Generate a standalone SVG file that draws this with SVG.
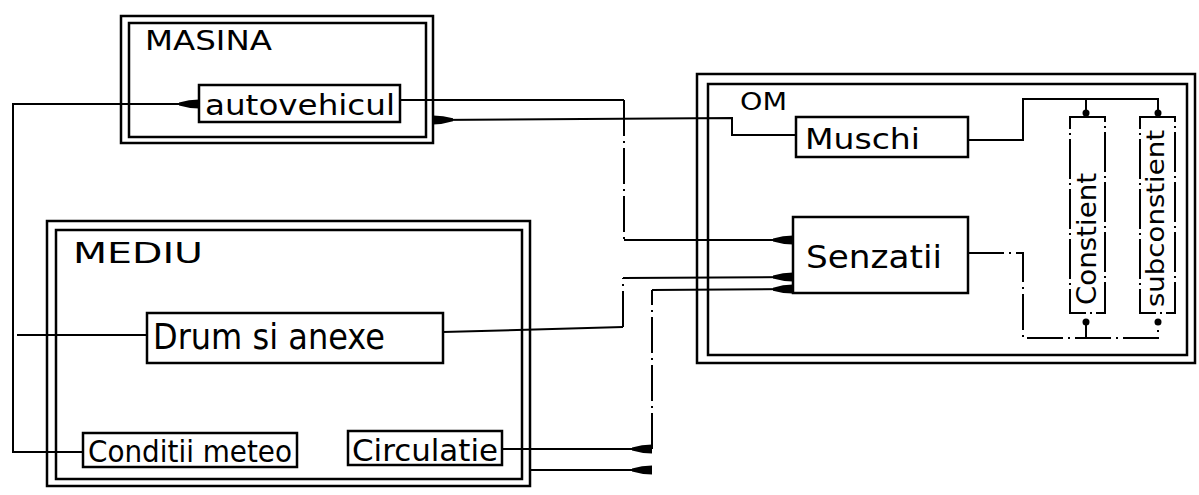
<svg xmlns="http://www.w3.org/2000/svg" width="1199" height="495" viewBox="0 0 1199 495">
<style>
.box{fill:none;stroke:#000;stroke-width:2.5}
.dbox{fill:none;stroke:#000;stroke-width:2;stroke-dasharray:40 4 2 4}
.ln{fill:none;stroke:#000;stroke-width:2}
.dl{fill:none;stroke:#000;stroke-width:2;stroke-dasharray:36 5 2 5}
.t{font-family:"DejaVu Sans","Liberation Sans",sans-serif;fill:#000}
.dot{fill:#000}
</style>
<defs>
<marker id="ah" markerUnits="userSpaceOnUse" markerWidth="22" markerHeight="12" refX="20" refY="6" orient="auto">
<path d="M0,4.5 Q10,1.5 20,1.5 L20,10.5 Q10,10.5 0,7.5 z" fill="#000"/>
</marker>
</defs>
<rect width="1199" height="495" fill="#fff"/>

<g id="masina">
<rect class="box" x="121" y="16" width="312" height="127"/>
<rect class="box" x="129" y="23" width="297" height="114"/>
<text class="t" x="145" y="50" font-size="26" textLength="127" lengthAdjust="spacingAndGlyphs">MASINA</text>
</g>
<g id="autovehicul">
<rect class="box" x="199" y="85" width="201" height="37"/>
<text class="t" x="205" y="115" font-size="28" textLength="190" lengthAdjust="spacingAndGlyphs">autovehicul</text>
</g>

<g id="om">
<rect class="box" x="697" y="74" width="498" height="289"/>
<rect class="box" x="708" y="84" width="479" height="271"/>
<text class="t" x="740" y="110" font-size="24" textLength="47" lengthAdjust="spacingAndGlyphs">OM</text>
</g>
<g id="muschi">
<rect class="box" x="796" y="117" width="172" height="40"/>
<text class="t" x="805" y="149" font-size="28" textLength="115" lengthAdjust="spacingAndGlyphs">Muschi</text>
</g>
<g id="senzatii">
<rect class="box" x="793" y="217" width="175" height="76"/>
<text class="t" x="806" y="268" font-size="32" textLength="136" lengthAdjust="spacingAndGlyphs">Senzatii</text>
</g>
<g id="constient">
<rect class="dbox" x="1070" y="117" width="35" height="196"/>
<text class="t" transform="translate(1096,305) rotate(-90)" font-size="26" textLength="132" lengthAdjust="spacingAndGlyphs">Constient</text>
</g>
<g id="subconstient">
<rect class="dbox" x="1140" y="117" width="35" height="196"/>
<text class="t" transform="translate(1164,307) rotate(-90)" font-size="25" textLength="177" lengthAdjust="spacingAndGlyphs">subconstient</text>
</g>

<g id="mediu">
<rect class="box" x="47" y="221" width="483" height="265"/>
<rect class="box" x="56" y="230" width="466" height="249"/>
<text class="t" x="73" y="263" font-size="28" textLength="130" lengthAdjust="spacingAndGlyphs">MEDIU</text>
</g>
<g id="drum">
<rect class="box" x="147" y="313" width="296" height="50"/>
<text class="t" x="153" y="349" font-size="36" textLength="232" lengthAdjust="spacingAndGlyphs">Drum si anexe</text>
</g>
<g id="conditii">
<rect class="box" x="83" y="433" width="214" height="34"/>
<text class="t" x="88" y="462" font-size="30" textLength="204" lengthAdjust="spacingAndGlyphs">Conditii meteo</text>
</g>
<g id="circulatie">
<rect class="box" x="348" y="431" width="154" height="34"/>
<text class="t" x="352" y="461" font-size="30" textLength="146" lengthAdjust="spacingAndGlyphs">Circulatie</text>
</g>

<g id="connectors">
<path class="ln" d="M83,452 L13,452 L13,104 L199,104" marker-end="url(#ah)"/>
<path class="ln" d="M400,100 L624,100"/>
<path class="dl" d="M624,100 L624,240"/>
<path class="ln" d="M624,240 L793,240" marker-end="url(#ah)"/>
<path class="ln" d="M796,135 L732,135 L732,118 L433,120" marker-end="url(#ah)"/>
<path class="ln" d="M968,140 L1023,140 L1023,99 L1158,99 L1158,115 M1086,99 L1086,115"/>
<circle class="dot" cx="1086" cy="113" r="3.5"/>
<circle class="dot" cx="1158" cy="113" r="3.5"/>
<path class="dl" d="M968,253 L1023,253 L1023,338 L1158,338 L1158,322 M1086,338 L1086,322"/>
<circle class="dot" cx="1086" cy="322" r="3.5"/>
<circle class="dot" cx="1158" cy="322" r="3.5"/>
<path class="ln" d="M17,335 L147,335"/>
<path class="ln" d="M443,332 L623,327"/>
<path class="dl" d="M623,327 L623,278"/>
<path class="ln" d="M623,278 L793,277" marker-end="url(#ah)"/>
<path class="ln" d="M502,449 L652,449" marker-end="url(#ah)"/>
<path class="dl" d="M652,449 L652,290"/>
<path class="ln" d="M652,290 L793,289" marker-end="url(#ah)"/>
<path class="ln" d="M530,470 L652,470" marker-end="url(#ah)"/>
</g>
</svg>
